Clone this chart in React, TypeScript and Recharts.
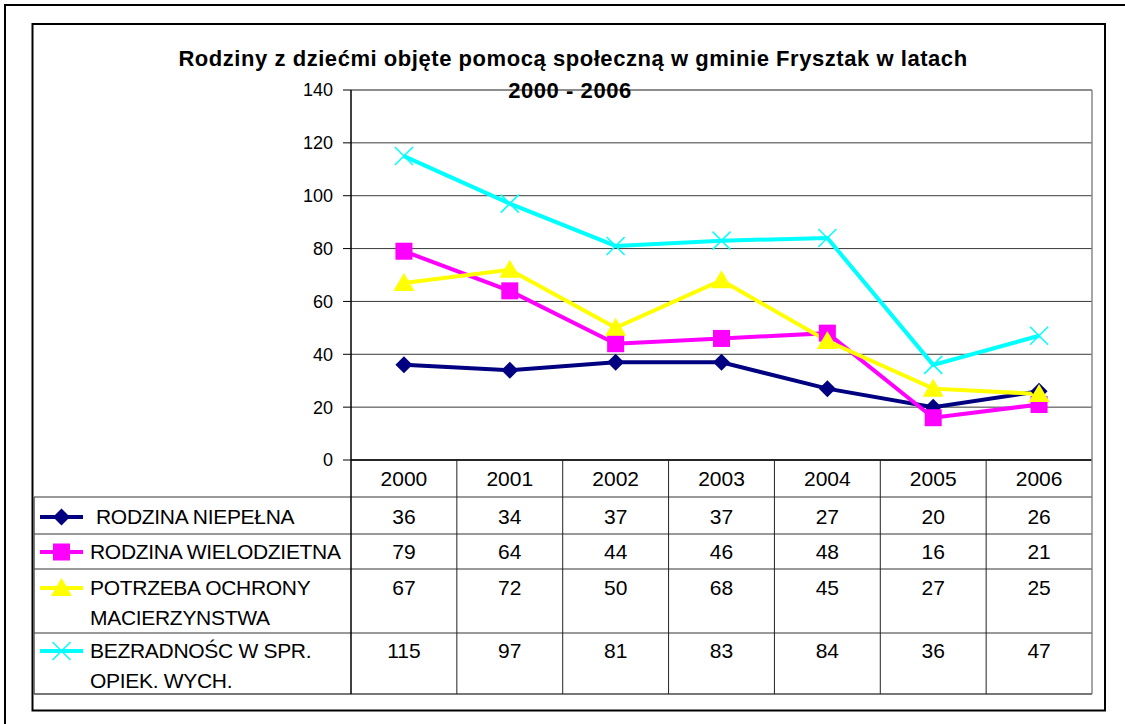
import { LineChart, Line, XAxis, YAxis, CartesianGrid, ReferenceLine } from "recharts";

const years = ["2000", "2001", "2002", "2003", "2004", "2005", "2006"];
const niepelna = [36, 34, 37, 37, 27, 20, 26];
const wielodzietna = [79, 64, 44, 46, 48, 16, 21];
const macierzynstwo = [67, 72, 50, 68, 45, 27, 25];
const bezradnosc = [115, 97, 81, 83, 84, 36, 47];
const yTicks = [0, 20, 40, 60, 80, 100, 120, 140];

const FONT = "Arial, 'Liberation Sans', sans-serif";

// layout of the plot / table (px)
const PLOT_L = 351;
const PLOT_R = 1092;
const PLOT_T = 90;
const AXIS_Y = 460;
const TABLE_L = 34;
const TABLE_B = 694;
const COL_W = (PLOT_R - PLOT_L) / years.length;

const series = [
  { key: "niepelna", name: ["RODZINA NIEPEŁNA"], values: niepelna, color: "#000080", marker: "diamond", textX: 96 },
  { key: "wielodzietna", name: ["RODZINA WIELODZIETNA"], values: wielodzietna, color: "#FF00FF", marker: "square", textX: 90 },
  { key: "macierzynstwo", name: ["POTRZEBA OCHRONY", "MACIERZYNSTWA"], values: macierzynstwo, color: "#FFFF00", marker: "triangle", textX: 90 },
  { key: "bezradnosc", name: ["BEZRADNOŚC W SPR.", "OPIEK. WYCH."], values: bezradnosc, color: "#00FFFF", marker: "cross", textX: 90 },
];

// row geometry: top, bottom, first-line baseline
const rows = [
  { top: 497, bottom: 534, base: 524 },
  { top: 534, bottom: 569, base: 559 },
  { top: 569, bottom: 633, base: 595 },
  { top: 633, bottom: 694, base: 658 },
];

const data = years.map((y, i) => ({
  year: y,
  niepelna: niepelna[i],
  wielodzietna: wielodzietna[i],
  macierzynstwo: macierzynstwo[i],
  bezradnosc: bezradnosc[i],
}));

function Marker({ kind, cx, cy, color }: { kind: string; cx: number; cy: number; color: string }) {
  if (kind === "diamond") {
    const s = 8.5;
    return <polygon points={`${cx},${cy - s} ${cx + s},${cy} ${cx},${cy + s} ${cx - s},${cy}`} fill={color} />;
  }
  if (kind === "square") {
    return <rect x={cx - 8.5} y={cy - 8.5} width={17} height={17} fill={color} />;
  }
  if (kind === "triangle") {
    return <polygon points={`${cx},${cy - 10} ${cx + 10.5},${cy + 8} ${cx - 10.5},${cy + 8}`} fill={color} />;
  }
  const s = 9;
  return (
    <g stroke={color} strokeWidth={1.5}>
      <line x1={cx - s} y1={cy - s} x2={cx + s} y2={cy + s} />
      <line x1={cx - s} y1={cy + s} x2={cx + s} y2={cy - s} />
    </g>
  );
}

function makeDot(kind: string, color: string) {
  return (props: any) => {
    const { cx, cy, index } = props;
    if (cx == null || cy == null) return <g key={index} />;
    return <Marker key={index} kind={kind} cx={cx} cy={cy} color={color} />;
  };
}

// year header + the values of each series under it
function TableTick(props: any) {
  const { x, payload, index } = props;
  return (
    <g fontFamily={FONT} fontSize={21} fill="#000" textAnchor="middle">
      <text x={x} y={486}>{payload.value}</text>
      {series.map((s, r) => (
        <text key={s.key} x={x} y={rows[r].base}>{s.values[index]}</text>
      ))}
    </g>
  );
}

export default function App() {
  return (
    <div style={{ position: "absolute", left: 0, top: 0, width: 1125, height: 724, background: "#fff", overflow: "hidden" }}>
      <LineChart
        width={1125}
        height={724}
        data={data}
        margin={{ top: PLOT_T, right: 1125 - PLOT_R, bottom: 724 - TABLE_B, left: PLOT_L - 60 }}
      >
        <CartesianGrid vertical={false} stroke="#3a3a3a" strokeWidth={1} />
        <XAxis
          dataKey="year"
          height={TABLE_B - AXIS_Y}
          padding={{ left: COL_W / 2, right: COL_W / 2 }}
          interval={0}
          tickLine={false}
          axisLine={{ stroke: "#000", strokeWidth: 1.5 }}
          tick={<TableTick />}
        />
        <YAxis
          width={60}
          domain={[0, 140]}
          ticks={yTicks}
          interval={0}
          tickSize={8}
          tickMargin={10}
          axisLine={{ stroke: "#000", strokeWidth: 1.5 }}
          tickLine={{ stroke: "#000" }}
          tick={{ fill: "#000", fontSize: 18, fontFamily: FONT }}
        />
        <ReferenceLine y={140} stroke="#888" strokeWidth={1.5} />
        {series.map((s) => (
          <Line
            key={s.key}
            type="linear"
            dataKey={s.key}
            stroke={s.color}
            strokeWidth={4}
            dot={makeDot(s.marker, s.color)}
            activeDot={false}
            isAnimationActive={false}
          />
        ))}
      </LineChart>

      <svg width={1125} height={724} style={{ position: "absolute", left: 0, top: 0, pointerEvents: "none" }}>
        {/* frames */}
        <path d="M5 730 L5 5 L1130 5" fill="none" stroke="#000" strokeWidth={2} />
        <rect x={32.5} y={24} width={1072.5} height={686.5} fill="none" stroke="#000" strokeWidth={2} />

        {/* title */}
        <g fontFamily={FONT} fontWeight="bold" fontSize={22} letterSpacing={0.55} textAnchor="middle" fill="#000">
          <text x={573} y={66}>Rodziny z dziećmi objęte pomocą społeczną w gminie Frysztak w latach</text>
          <text x={570} y={98}>2000 - 2006</text>
        </g>

        {/* plot right border */}
        <line x1={PLOT_R} y1={PLOT_T} x2={PLOT_R} y2={TABLE_B} stroke="#888" strokeWidth={1.5} />

        {/* table lines */}
        {rows.map((r, i) => (
          <line key={i} x1={TABLE_L} y1={r.top} x2={PLOT_R} y2={r.top} stroke="#777" strokeWidth={1.5} />
        ))}
        <line x1={TABLE_L} y1={TABLE_B} x2={PLOT_R} y2={TABLE_B} stroke="#777" strokeWidth={2} />
        <line x1={TABLE_L} y1={rows[0].top} x2={TABLE_L} y2={TABLE_B} stroke="#555" strokeWidth={1.5} />
        <line x1={PLOT_L} y1={AXIS_Y} x2={PLOT_L} y2={TABLE_B} stroke="#000" strokeWidth={1.5} />
        {years.slice(1).map((_, i) => (
          <line
            key={i}
            x1={PLOT_L + COL_W * (i + 1)}
            y1={AXIS_Y}
            x2={PLOT_L + COL_W * (i + 1)}
            y2={TABLE_B}
            stroke="#222"
            strokeWidth={1}
          />
        ))}

        {/* legend keys */}
        {series.map((s, i) => {
          const cy = rows[i].base - 7;
          return (
            <g key={s.key}>
              <line x1={40} y1={cy} x2={83} y2={cy} stroke={s.color} strokeWidth={4} />
              <Marker kind={s.marker} cx={61.5} cy={cy} color={s.color} />
              <g fontFamily={FONT} fontSize={21} fill="#000">
                {s.name.map((n, k) => (
                  <text key={k} x={s.textX} y={rows[i].base + k * 30} letterSpacing={-0.3}>{n}</text>
                ))}
              </g>
            </g>
          );
        })}
      </svg>
    </div>
  );
}
